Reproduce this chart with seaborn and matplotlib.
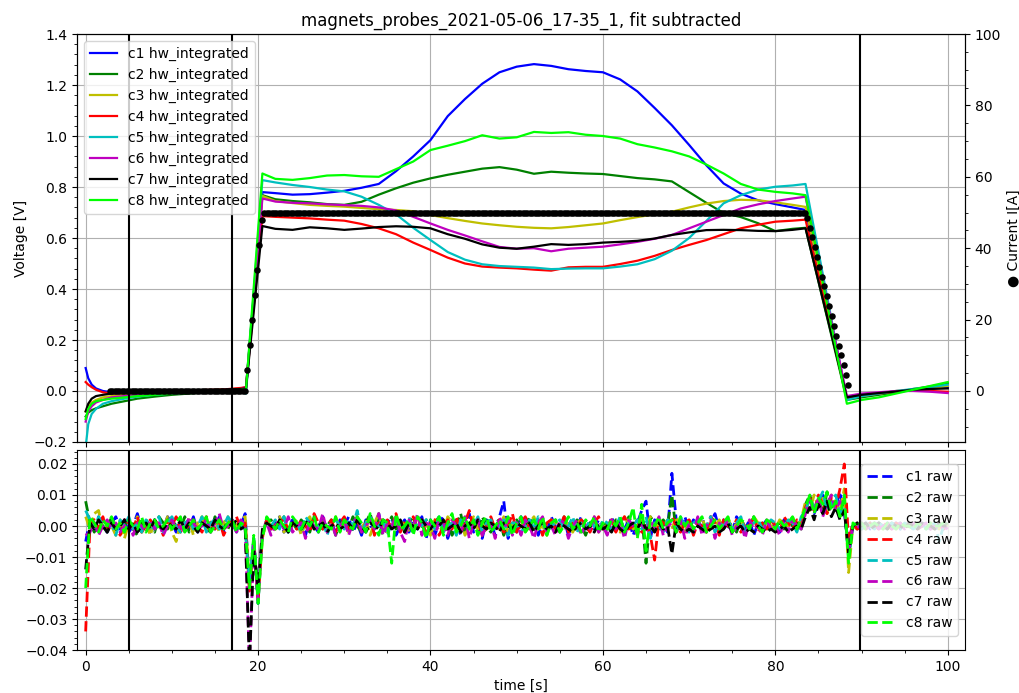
import matplotlib
matplotlib.use("Agg")
import matplotlib.pyplot as plt
from matplotlib.ticker import AutoMinorLocator
import numpy as np
import seaborn as sns

title = "magnets_probes_2021-05-06_17-35_1, fit subtracted"
channels = ["c1", "c2", "c3", "c4", "c5", "c6", "c7", "c8"]
colors = ["b", "g", "y", "r", "c", "m", "k", "lime"]

# hw integrated signals [V]
t_int = [0, 0.3, 0.7, 1.2, 2, 3, 4.5, 6, 8, 10, 12, 14, 16, 18, 18.6,
         20.5, 22, 24, 26, 28, 30, 32, 34, 36, 38, 40, 42, 44, 46, 48, 50,
         52, 54, 56, 58, 60, 62, 64, 66, 68, 70, 72, 74, 76, 78, 80, 82,
         83.5, 88.3, 90, 92, 94, 96, 98, 100]
int_c1 = [0.09, 0.05, 0.025, 0.01, 0.0, -0.005, -0.005, -0.003, -0.002, 0.0, 0.0, 0.002, 0.003, 0.01, 0.015,
          0.78, 0.776, 0.77, 0.772, 0.778, 0.785, 0.797, 0.812, 0.862, 0.92, 0.984, 1.078, 1.145, 1.205, 1.25, 1.272,
          1.282, 1.275, 1.262, 1.255, 1.25, 1.222, 1.175, 1.11, 1.042, 0.965, 0.885, 0.814, 0.774, 0.748, 0.733, 0.72,
          0.71, -0.03, -0.02, -0.012, -0.005, 0.005, 0.01, 0.015]
int_c2 = [-0.1, -0.085, -0.075, -0.068, -0.06, -0.05, -0.04, -0.03, -0.022, -0.015, -0.01, -0.005, 0.0, 0.008, 0.01,
          0.768, 0.752, 0.745, 0.74, 0.733, 0.73, 0.742, 0.77, 0.795, 0.817, 0.834, 0.848, 0.86, 0.872, 0.878, 0.868,
          0.852, 0.86, 0.856, 0.853, 0.851, 0.843, 0.835, 0.83, 0.822, 0.78, 0.738, 0.698, 0.682, 0.658, 0.627, 0.636,
          0.64, -0.035, -0.025, -0.015, -0.005, 0.008, 0.018, 0.03]
int_c3 = [-0.08, -0.06, -0.045, -0.035, -0.025, -0.02, -0.015, -0.01, -0.01, -0.005, 0.0, 0.002, 0.005, 0.01, 0.012,
          0.765, 0.745, 0.737, 0.73, 0.726, 0.723, 0.718, 0.713, 0.71, 0.705, 0.69, 0.678, 0.667, 0.657, 0.65, 0.644,
          0.64, 0.638, 0.643, 0.65, 0.657, 0.67, 0.682, 0.693, 0.703, 0.72, 0.735, 0.745, 0.75, 0.748, 0.74, 0.73,
          0.722, -0.03, -0.02, -0.01, 0.0, 0.005, 0.01, 0.02]
int_c4 = [0.035, 0.025, 0.015, 0.005, -0.005, -0.01, -0.008, -0.005, -0.003, 0.0, 0.002, 0.004, 0.006, 0.012, 0.015,
          0.686, 0.683, 0.68, 0.677, 0.672, 0.668, 0.655, 0.638, 0.615, 0.582, 0.553, 0.523, 0.5, 0.488, 0.484, 0.481,
          0.476, 0.472, 0.485, 0.487, 0.487, 0.498, 0.511, 0.53, 0.553, 0.573, 0.592, 0.615, 0.638, 0.652, 0.664, 0.668,
          0.672, -0.03, -0.015, -0.01, -0.002, 0.005, 0.0, -0.003]
int_c5 = [-0.22, -0.13, -0.09, -0.07, -0.05, -0.04, -0.03, -0.022, -0.015, -0.01, -0.006, -0.003, 0.0, 0.0, -0.01,
          0.827, 0.818, 0.808, 0.8, 0.79, 0.783, 0.762, 0.73, 0.693, 0.64, 0.592, 0.545, 0.515, 0.497, 0.49, 0.487,
          0.484, 0.478, 0.48, 0.481, 0.481, 0.488, 0.497, 0.517, 0.55, 0.6, 0.667, 0.736, 0.768, 0.79, 0.801, 0.806,
          0.812, -0.035, -0.02, -0.01, 0.0, 0.008, 0.015, 0.025]
int_c6 = [-0.12, -0.08, -0.06, -0.045, -0.035, -0.025, -0.02, -0.015, -0.01, -0.005, 0.0, 0.0, 0.004, 0.008, 0.01,
          0.755, 0.743, 0.738, 0.736, 0.732, 0.729, 0.726, 0.72, 0.708, 0.683, 0.657, 0.632, 0.61, 0.587, 0.565, 0.558,
          0.56, 0.548, 0.558, 0.562, 0.566, 0.575, 0.585, 0.597, 0.612, 0.638, 0.664, 0.69, 0.716, 0.732, 0.745, 0.755,
          0.762, -0.02, -0.01, -0.005, 0.0, 0.0, -0.003, -0.008]
int_c7 = [-0.08, -0.05, -0.03, -0.02, -0.015, -0.01, -0.005, -0.003, 0.0, 0.0, 0.002, 0.004, 0.005, 0.008, 0.01,
          0.647, 0.636, 0.632, 0.642, 0.638, 0.632, 0.637, 0.643, 0.646, 0.644, 0.638, 0.615, 0.597, 0.575, 0.562, 0.558,
          0.566, 0.576, 0.573, 0.576, 0.582, 0.585, 0.589, 0.598, 0.612, 0.622, 0.631, 0.632, 0.631, 0.628, 0.627, 0.632,
          0.638, -0.025, -0.015, -0.008, -0.002, 0.005, 0.008, 0.01]
int_c8 = [-0.11, -0.07, -0.05, -0.04, -0.035, -0.03, -0.025, -0.02, -0.015, -0.01, -0.006, -0.003, 0.0, 0.005, 0.008,
          0.853, 0.832, 0.828, 0.835, 0.845, 0.847, 0.842, 0.84, 0.87, 0.9, 0.945, 0.962, 0.98, 1.003, 0.99, 0.995,
          1.016, 1.012, 1.015, 1.005, 1.0, 0.99, 0.968, 0.955, 0.94, 0.92, 0.888, 0.853, 0.812, 0.79, 0.781, 0.775,
          0.768, -0.05, -0.035, -0.025, -0.01, 0.005, 0.02, 0.035]
integrated = [int_c1, int_c2, int_c3, int_c4, int_c5, int_c6, int_c7, int_c8]

# raw signals [mV], one sample every raw_dt seconds from t = 0
raw_dt = 0.5
raw_c1 = [-5, 2, -1, 3, 0, -2, 1, 3, -1, 2, -2, 0, 4, -1, 1, -2, 2, 0, -1, 3,
          1, -2, 2, 0, -1, 3, -2, 1, 0, 2, -1, 3, -2, 1, 2, -1, 0, 4, -20, -6,
          -25, -2, 2, -1, 1, 3, -2, 0, 2, -1, 1, -3, 2, 0, -2, 3, -1, 1, -2, 2,
          0, 3, -2, 1, -3, 2, 0, -1, 4, -2, 1, 3, -3, 0, 2, -2, 1, -1, 3, -4,
          2, -3, 1, 3, -4, 0, 2, -3, 1, 4, -2, 0, -4, 2, 1, -3, 3, 8, -4, 1,
          -2, 3, -1, 0, 2, -3, 1, -2, 3, 0, -1, 2, -3, 1, 0, 3, -2, 1, -1, 2,
          0, -2, 3, -1, 2, -1, 2, -3, 1, 5, 8, -4, 2, -1, 1, -2, 17, 2, -1, 3,
          -1, 2, 0, 3, -2, 1, 4, -1, 2, 0, -2, 3, 1, -1, 2, -3, 1, 0, 2, -1,
          1, -2, 2, 0, 3, -1, 1, 6, 9, 4, 7, 10, 5, 8, 6, 11, 4, -6, 1, -1,
          0, 1, -1, 1, 0, -1, 1, 0, 1, -1, 0, 1, -1, 0, 1, 0, -1, 1, 0, -1,
          0]
raw_c2 = [8, 1, -2, 2, 0, -1, 3, -2, 1, 0, 2, -1, -3, 1, 2, 0, -2, 3, 1, -1,
          2, 0, -1, 3, -2, 1, 0, 2, -1, -2, 3, 0, 1, -1, 2, 0, 1, 2, -18, -4,
          -23, -3, 1, 2, -1, 0, 3, -2, 1, -1, 2, 0, -2, 3, 1, -1, 0, 2, -3, 1,
          2, -1, 3, 0, -2, 1, 4, -1, 2, -3, 0, 3, -1, 2, -2, 1, 3, -1, 0, 2,
          -2, 1, 3, -1, 2, -3, 0, 4, -2, 1, 2, -1, 3, 0, -2, 1, 2, -3, 1, 0,
          2, -1, 0, 3, -2, 1, 2, -1, 0, 2, -2, 3, 1, -1, 2, 0, -3, 1, 2, -1,
          1, 0, -2, 2, 1, -1, 3, 0, -2, 4, -12, 3, 1, -1, 2, 0, 10, -2, 1, 0,
          2, -1, 1, 0, -2, 3, 1, -1, 2, 0, 1, -2, 2, 0, -1, 3, 0, 1, -2, 2,
          0, 1, -1, 2, 0, 2, -1, 7, 10, 5, 9, 4, 11, 6, 8, 3, 9, -10, 0, 1,
          -1, 0, 1, -1, 1, 0, -1, 1, 0, 1, -1, 0, 1, -1, 0, 1, 0, -1, 1, 0,
          1]
raw_c3 = [3, -1, 4, 5, -2, 1, 0, -3, 2, -4, 1, 0, 3, -2, 1, -3, 2, 0, -1, 3,
          -2, -5, 1, 0, 2, -3, 1, 3, -1, 0, 2, -2, 1, 3, -1, 0, 2, 3, -19, -5,
          -24, -4, 2, 0, -1, 3, -2, 1, 0, 2, -3, 1, 3, -1, 0, 2, -2, 1, 3, -1,
          1, -2, 0, 3, -1, 2, -3, 1, 4, 0, -2, 1, 3, -1, 2, -2, 0, 3, -1, 1,
          -3, 2, 0, -2, 3, 1, -1, 2, -3, 0, 3, -1, 1, -2, 2, 0, -1, 3, -2, 1,
          0, 2, -2, 1, 3, -1, 0, -3, 2, 1, -1, 3, 0, -2, 1, 2, -1, 0, 3, -2,
          1, -1, 2, 0, -2, 3, 1, -1, 0, 2, -1, 3, -2, 1, 0, 2, -1, 3, 0, -2,
          2, -1, 0, 3, -2, 1, 0, 2, -1, 3, -2, 1, 2, -1, 0, 3, 1, -2, 2, 0,
          -1, 2, 1, 0, 3, -1, 2, 8, 5, 10, 6, 9, 4, 10, 7, 5, 12, -15, 0, -1,
          1, 0, -1, 0, 1, -1, 0, 1, -1, 0, 1, 0, -1, 1, 0, -1, 1, 0, -1, 1,
          0]
raw_c4 = [-34, 0, 2, -1, 3, -2, 1, 0, -3, 2, 1, -1, 3, -2, 0, 2, -1, 1, -3, 2,
          0, 3, -2, 1, -1, 2, 0, -2, 3, 1, -1, 2, -3, 0, 2, 3, -1, 1, -21, -5,
          -23, -3, 2, -1, 1, 0, 3, -2, 1, -1, 2, 0, -2, 4, 1, -1, 0, 2, -2, 1,
          3, -1, 0, 2, -2, 1, 3, -3, 1, 0, 2, -1, 4, -2, 1, 0, 3, -1, 2, -3,
          1, 2, -3, 0, 2, -1, 3, -2, 1, 5, -1, 2, -3, 0, 3, -1, 2, -2, 0, 4,
          -2, 1, 3, -1, 0, 2, -3, 1, 2, -1, 0, 3, -2, 1, -1, 2, 0, -2, 1, 3,
          -1, 0, 2, -2, 1, 3, -1, 0, 2, -2, 1, -3, -11, 2, 1, -1, 3, 0, -2, 1,
          2, -3, 1, 0, -2, 3, 1, -3, 2, 0, -1, 2, -2, 1, 0, 3, -2, 1, -1, 2,
          0, -2, 3, 1, -1, 2, 0, 6, 9, 5, 10, 7, 4, 9, 6, 12, 20, -5, 1, -1,
          0, -1, 1, 0, -1, 1, 0, -1, 1, 0, -1, 1, 0, -1, 0, 1, -1, 0, 1, -1,
          0]
raw_c5 = [5, 2, -1, 3, 0, -2, 1, -3, 2, 0, 3, -1, 1, -2, 2, 0, -1, 3, -2, 1,
          3, 0, -2, 1, 2, -1, 0, 3, -2, 1, 2, -1, 0, 3, 1, -2, 0, -1, -18, -4,
          -22, -2, 1, 0, 2, -1, 3, -2, 0, 1, -2, 3, 1, -1, 0, 2, -3, 1, 2, 0,
          -1, 2, 0, 5, -2, 1, 3, -1, 0, 2, -3, 1, 2, 0, -1, 3, -2, 1, 0, 2,
          2, -1, 3, -2, 0, 1, -3, 2, 1, -1, 0, 3, -2, 1, 2, -1, 0, 2, -3, 1,
          1, -2, 0, 2, -1, 3, 1, -2, 0, 1, 2, -1, 0, 3, -2, 1, -1, 2, 0, -2,
          2, 1, -1, 0, 3, -2, 1, 0, 2, -1, 3, -4, 1, 0, -2, 2, 1, -1, 3, 0,
          -2, 1, 2, -1, 0, 3, -2, 1, 0, 2, -1, 1, 3, -2, 0, 1, 2, -1, 0, 2,
          1, -1, 0, 2, 1, -2, 3, 5, 9, 6, 8, 11, 5, 7, 10, 4, 6, -10, 0, 1,
          -1, 1, 0, -1, 1, 0, -1, 1, 0, -1, 1, 0, -1, 0, 1, -1, 0, 1, -5, 0,
          1]
raw_c6 = [-3, -2, 1, -3, 0, 2, -1, 1, -2, 0, 2, -3, 1, 0, -2, 2, -1, 1, -3, 0,
          2, -1, 0, -2, 3, 1, -1, 0, 2, -2, 1, 4, -1, 0, 1, -2, 2, 0, -45, -6,
          -24, -2, 1, -3, 0, 2, -1, 3, -2, 0, 1, -4, 2, 0, -1, 4, -2, 1, -3, 0,
          2, -3, 1, 3, -2, 0, 2, -1, 4, -3, 1, 0, 3, -2, -5, 2, -1, 4, -3, 1,
          0, -4, 2, 1, -3, 2, 0, -2, 3, -4, 1, 2, -3, 0, 1, -4, 3, -1, 2, -3,
          1, -3, 2, 0, -4, 1, 3, -2, 0, -3, 2, 1, -4, 0, 2, -3, 1, -1, 3, -2,
          0, -3, 2, -1, 1, -4, 2, 0, -3, 1, -2, 2, -1, 3, -3, 0, 1, -2, 2, -4,
          1, -2, 3, -3, 0, 2, -4, 1, -1, 2, -3, 0, 1, -4, 2, -1, 0, -3, 2, -1,
          0, -3, 1, -2, 2, 0, -1, 4, 8, 5, 9, 3, 7, 10, 5, 8, 6, -8, 0, -1,
          1, -1, 0, 1, -1, 0, 1, -1, 0, 1, -1, 0, 1, -1, 0, 1, -1, 0, -1, 0,
          -1]
raw_c7 = [-14, 1, -1, 2, 0, -2, 1, -1, 0, 2, -1, 1, -2, 0, 1, -1, 2, 0, -1, 1,
          0, -1, 2, -1, 1, 0, -2, 1, 0, -1, 2, 0, -1, 1, 0, 2, -1, 0, -45, -8,
          -20, -1, 1, 0, -1, 2, 0, -2, 1, 0, -1, 1, 2, -1, 0, 1, -2, 0, 1, -1,
          0, 1, -1, 2, 0, -2, 1, 0, -1, 2, 1, -1, 0, 2, -2, 1, 0, -1, 2, 0,
          -1, 1, 0, 2, -1, 0, 1, -2, 0, 1, -1, 2, 0, -1, 1, 0, -2, 1, 0, -1,
          1, 0, -1, 1, -2, 0, 1, -1, 0, -2, 1, 0, -1, -2, 0, 1, -1, 0, -2, 1,
          -1, 0, -2, 1, -1, -2, 0, 1, -1, 2, -1, 0, -2, 1, -1, 0, -9, 1, -1, -2,
          -1, -2, 0, -1, -2, -1, 0, -2, -1, 1, -2, -1, 0, -2, -1, -2, 0, -1, -2, -1,
          -2, -1, 0, -2, -1, 0, -1, 3, 6, 2, 7, 4, 8, 3, 6, 2, 5, -9, 0, 1,
          0, 1, -1, 0, 1, 0, -1, 1, 0, 0, -1, 1, 0, -1, 1, 0, 0, -1, 1, 0,
          0]
raw_c8 = [-20, 3, 1, -2, 2, 0, 3, -1, 1, -2, 2, 0, -1, 3, -2, 1, 2, -1, 0, 2,
          -1, 1, 3, -2, 0, 2, -1, 1, 3, -2, 0, 2, -1, 1, 2, -2, 1, 0, -20, -3,
          -25, -4, 3, 1, -1, 2, 0, -2, 3, 1, -1, 2, 0, 3, -2, 1, 0, -1, 3, -2,
          2, 0, -1, 3, 1, -2, 4, 0, -3, 2, 1, -12, 4, -1, 0, 2, -3, 3, 1, -4,
          2, 0, 3, -3, 1, 4, -2, 0, 3, -1, 2, -3, 1, 3, -2, 0, 2, -1, 3, -3,
          1, 3, -2, 0, 2, -1, 3, -3, 1, 2, -2, 0, 3, -1, 1, -2, 2, 0, 3, -2,
          1, -1, 2, 0, 3, -2, 1, 6, -4, 7, -8, 2, 0, 3, -1, 1, 2, -2, 3, 0,
          2, -1, 1, 3, -2, 0, 2, -1, 1, 3, -2, 0, 2, 1, -1, 3, 0, -2, 2, 1,
          -1, 2, 0, 1, 3, -1, 2, 6, 10, 4, 9, 7, 11, 5, 8, 3, 10, -12, 1, 0,
          1, -1, 0, 1, 0, -1, 1, 0, -1, 1, 0, 0, -1, 1, 0, -1, 1, 0, 0, 1,
          0]
raw = [raw_c1, raw_c2, raw_c3, raw_c4, raw_c5, raw_c6, raw_c7, raw_c8]

# magnet current [A], one sample every cur_dt seconds from cur_t0
cur_t0 = 2.8
cur_dt = 0.28
current = ([0.0] * 57 + [6, 13, 20, 27, 34, 41, 48] + [50.0] * 225 +
           [48.6, 45.8, 43.1, 40.3, 37.6, 34.8, 32.0, 29.3, 26.5, 23.8,
            21.0, 18.2, 15.5, 12.7, 10.0, 7.2, 4.4, 1.6])

# time window markers [s]
marker_times = [5, 17, 89.8]


def make_plot():
    fig = plt.figure(figsize=(10.19, 6.93), dpi=100)
    ax = fig.add_axes([0.0756, 0.3622, 0.8714, 0.5887])
    ax_raw = fig.add_axes([0.0756, 0.062, 0.8714, 0.2886], sharex=ax)

    for name, col, vals in zip(channels, colors, integrated):
        sns.lineplot(x=t_int, y=vals, ax=ax, color=col, linewidth=1.6,
                     label=name + " hw_integrated")
    for t in marker_times:
        ax.axvline(t, color="k", linewidth=1.5)
    ax.set_xlim(-1, 102)
    ax.set_ylim(-0.2, 1.4)
    ax.set_ylabel("Voltage [V]")
    ax.set_xlabel("")
    ax.set_title(title)
    ax.grid(True)
    ax.xaxis.set_minor_locator(AutoMinorLocator())
    ax.yaxis.set_minor_locator(AutoMinorLocator(5))
    ax.tick_params(labelbottom=False)
    ax.legend(loc="upper left")

    ax2 = ax.twinx()
    cur_t = cur_t0 + cur_dt * np.arange(len(current))
    sns.scatterplot(x=cur_t, y=current, ax=ax2, color="k", s=22,
                    linewidth=0, zorder=3)
    ax2.set_ylim(-0.2 * 100 / 1.4, 100)
    ax2.set_ylabel("\u25cf Current I[A]")
    ax2.yaxis.set_minor_locator(AutoMinorLocator())
    ax2.set_xlim(-1, 102)

    raw_t = raw_dt * np.arange(len(raw_c1))
    for name, col, vals in zip(channels, colors, raw):
        sns.lineplot(x=raw_t, y=np.array(vals) / 1000.0, ax=ax_raw, color=col,
                     linestyle="--", linewidth=2.0, label=name + " raw")
    for t in marker_times:
        ax_raw.axvline(t, color="k", linewidth=1.5)
    ax_raw.set_ylim(-0.04, 0.0245)
    ax_raw.set_xlim(-1, 102)
    ax_raw.set_xlabel("time [s]")
    ax_raw.grid(True)
    ax_raw.xaxis.set_minor_locator(AutoMinorLocator())
    ax_raw.yaxis.set_minor_locator(AutoMinorLocator(5))
    ax_raw.legend(loc="center right")

    fig.savefig("out.png", dpi=100)


if __name__ == "__main__":
    make_plot()
